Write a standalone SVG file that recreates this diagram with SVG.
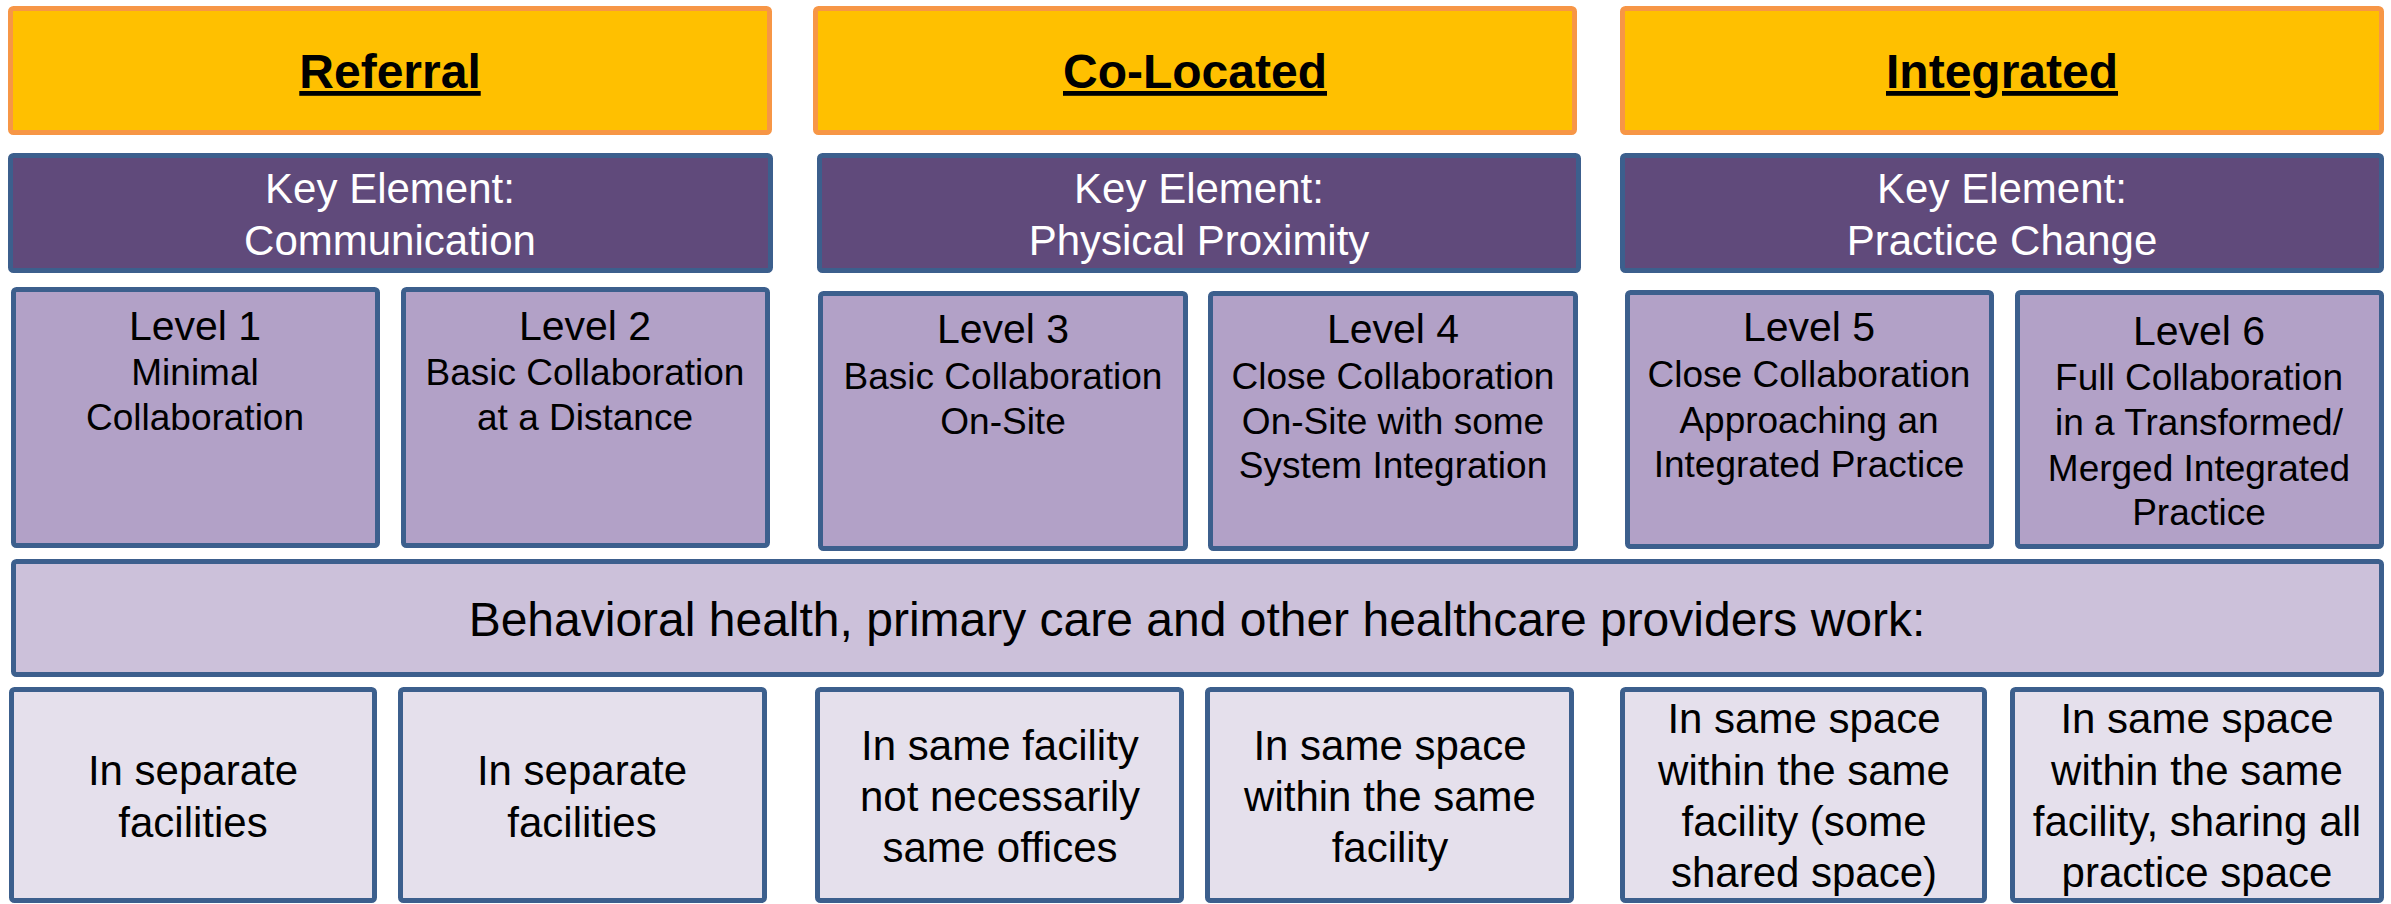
<svg xmlns="http://www.w3.org/2000/svg" width="2391" height="904" viewBox="0 0 2391 904">
<style>
  text { font-family: "Liberation Sans", Arial, sans-serif; text-anchor: middle; }
  .hdr rect { fill: #FFC000; stroke: #F79646; stroke-width: 5; }
  .hdr text { font-size: 48px; font-weight: bold; fill: #000; text-decoration: underline; }
  .key rect { fill: #604A7B; stroke: #3C5F8D; stroke-width: 5; }
  .key text { font-size: 42px; fill: #fff; }
  .lvl rect { fill: #B2A1C7; stroke: #3C5F8D; stroke-width: 5; }
  .lvl .t { font-size: 41px; fill: #000; }
  .lvl .d { font-size: 37px; fill: #000; }
  .bar rect { fill: #CCC1DA; stroke: #3C5F8D; stroke-width: 5; }
  .bar text { font-size: 48px; fill: #000; }
  .loc rect { fill: #E5E0EC; stroke: #3C5F8D; stroke-width: 5; }
  .loc text { font-size: 42px; fill: #000; }
</style>
<rect width="2391" height="904" fill="#fff"/>

<g id="hdr-referral" class="hdr"><rect x="10.5" y="8.5" width="759" height="124" rx="3"/><text x="390" y="88">Referral</text></g>
<g id="hdr-colocated" class="hdr"><rect x="815.5" y="8.5" width="759" height="124" rx="3"/><text x="1195" y="88">Co-Located</text></g>
<g id="hdr-integrated" class="hdr"><rect x="1622.5" y="8.5" width="759" height="124" rx="3"/><text x="2002" y="88">Integrated</text></g>

<g id="key-communication" class="key"><rect x="10.5" y="155.5" width="760" height="115" rx="3"/><text x="390" y="203">Key Element:</text><text x="390" y="255">Communication</text></g>
<g id="key-proximity" class="key"><rect x="819.5" y="155.5" width="759" height="115" rx="3"/><text x="1199" y="203">Key Element:</text><text x="1199" y="255">Physical Proximity</text></g>
<g id="key-practice" class="key"><rect x="1622.5" y="155.5" width="759" height="115" rx="3"/><text x="2002" y="203">Key Element:</text><text x="2002" y="255">Practice Change</text></g>

<g id="level1" class="lvl"><rect x="13.5" y="289.5" width="364" height="256" rx="3"/>
  <text class="t" x="195" y="340">Level 1</text>
  <text class="d" x="195" y="385">Minimal</text>
  <text class="d" x="195" y="430">Collaboration</text></g>
<g id="level2" class="lvl"><rect x="403.5" y="289.5" width="364" height="256" rx="3"/>
  <text class="t" x="585" y="340">Level 2</text>
  <text class="d" x="585" y="385">Basic Collaboration</text>
  <text class="d" x="585" y="430">at a Distance</text></g>
<g id="level3" class="lvl"><rect x="820.5" y="293.5" width="365" height="255" rx="3"/>
  <text class="t" x="1003" y="343">Level 3</text>
  <text class="d" x="1003" y="389">Basic Collaboration</text>
  <text class="d" x="1003" y="434">On-Site</text></g>
<g id="level4" class="lvl"><rect x="1210.5" y="293.5" width="365" height="255" rx="3"/>
  <text class="t" x="1393" y="343">Level 4</text>
  <text class="d" x="1393" y="389">Close Collaboration</text>
  <text class="d" x="1393" y="434">On-Site with some</text>
  <text class="d" x="1393" y="478">System Integration</text></g>
<g id="level5" class="lvl"><rect x="1627.5" y="292.5" width="364" height="254" rx="3"/>
  <text class="t" x="1809" y="341">Level 5</text>
  <text class="d" x="1809" y="387">Close Collaboration</text>
  <text class="d" x="1809" y="433">Approaching an</text>
  <text class="d" x="1809" y="477">Integrated Practice</text></g>
<g id="level6" class="lvl"><rect x="2017.5" y="292.5" width="364" height="254" rx="3"/>
  <text class="t" x="2199" y="345">Level 6</text>
  <text class="d" x="2199" y="390">Full Collaboration</text>
  <text class="d" x="2199" y="435">in a Transformed/</text>
  <text class="d" x="2199" y="481">Merged Integrated</text>
  <text class="d" x="2199" y="525">Practice</text></g>

<g id="providers-bar" class="bar"><rect x="13.5" y="561.5" width="2368" height="113" rx="3"/>
  <text x="1197" y="636">Behavioral health, primary care and other healthcare providers work:</text></g>

<g id="loc1" class="loc"><rect x="11.5" y="689.5" width="363" height="211" rx="3"/>
  <text x="193" y="785">In separate</text><text x="193" y="837">facilities</text></g>
<g id="loc2" class="loc"><rect x="400.5" y="689.5" width="364" height="211" rx="3"/>
  <text x="582" y="785">In separate</text><text x="582" y="837">facilities</text></g>
<g id="loc3" class="loc"><rect x="817.5" y="689.5" width="364" height="211" rx="3"/>
  <text x="1000" y="760">In same facility</text><text x="1000" y="811">not necessarily</text><text x="1000" y="862">same offices</text></g>
<g id="loc4" class="loc"><rect x="1207.5" y="689.5" width="364" height="211" rx="3"/>
  <text x="1390" y="760">In same space</text><text x="1390" y="811">within the same</text><text x="1390" y="862">facility</text></g>
<g id="loc5" class="loc"><rect x="1622.5" y="689.5" width="362" height="211" rx="3"/>
  <text x="1804" y="733">In same space</text><text x="1804" y="785">within the same</text><text x="1804" y="836">facility (some</text><text x="1804" y="887">shared space)</text></g>
<g id="loc6" class="loc"><rect x="2012.5" y="689.5" width="369" height="211" rx="3"/>
  <text x="2197" y="733">In same space</text><text x="2197" y="785">within the same</text><text x="2197" y="836">facility, sharing all</text><text x="2197" y="887">practice space</text></g>

<g id="connectors"></g>
</svg>
